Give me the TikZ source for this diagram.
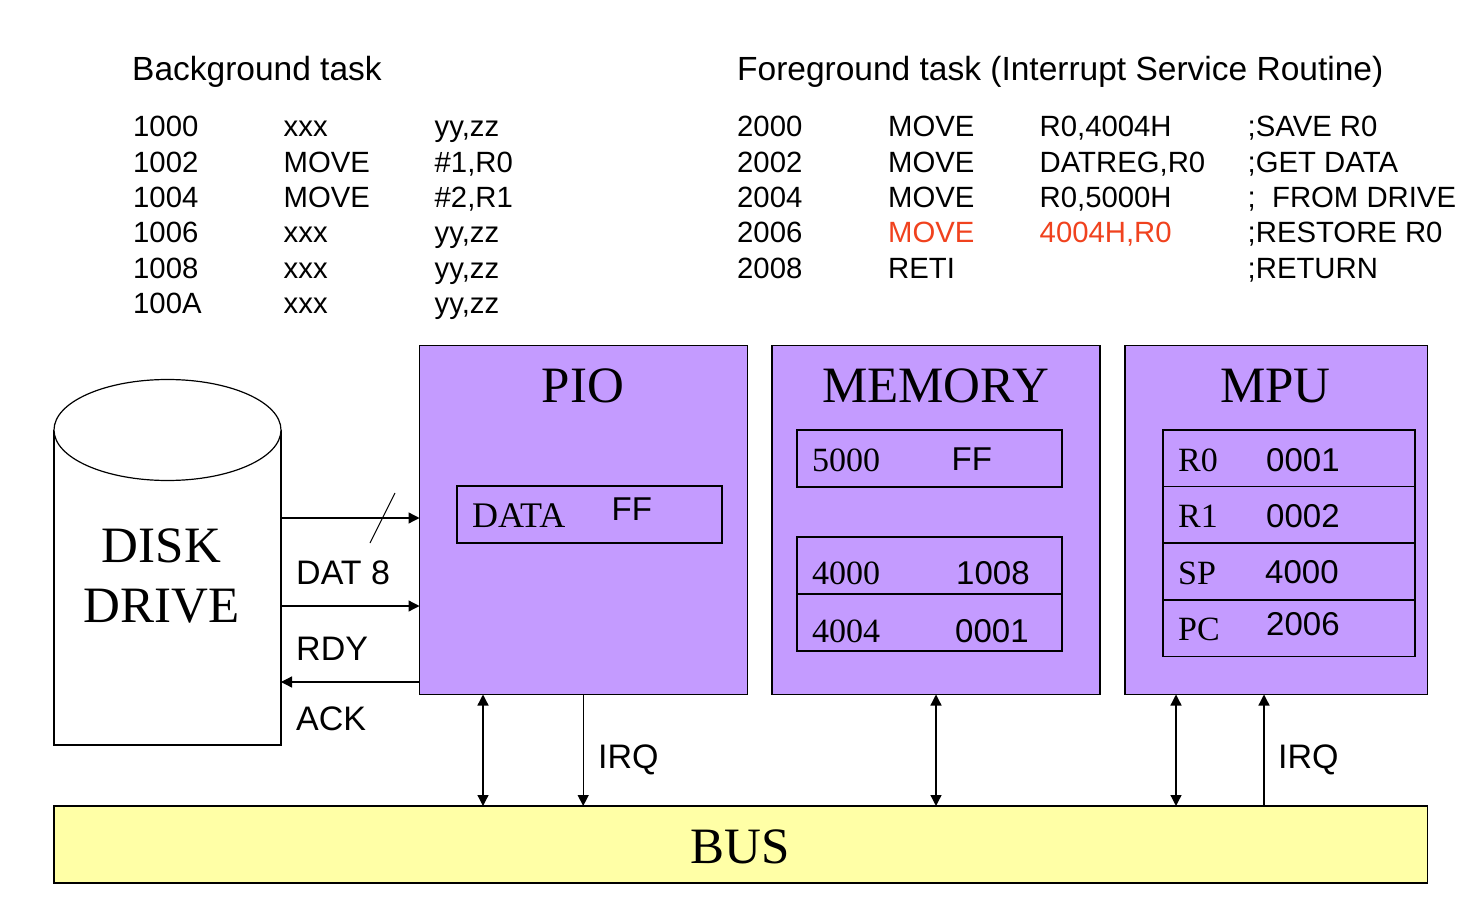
\documentclass[tikz,border=0pt]{standalone}
\usepackage{fontspec}
\setmainfont{Liberation Sans}
\newfontfamily\serifx{Liberation Serif}
\usetikzlibrary{arrows.meta}
\definecolor{purp}{HTML}{C49BFF}
\definecolor{yell}{HTML}{FFFFA6}
\definecolor{redt}{HTML}{F0421E}
\tikzset{
 x=1pt,y=-1pt,
 box/.style={draw=black,line width=1.2pt,fill=purp,anchor=north west,inner sep=0,outer sep=0},
 cell/.style={draw=black,line width=1.2pt,anchor=north west,inner sep=0,outer sep=0},
 heading/.style={anchor=base west,inner sep=0,font=\fontsize{33.5}{33.5}\selectfont},
 txt/.style={anchor=base west,inner sep=0,font=\fontsize{29.3}{29.3}\selectfont},
 lbl/.style={anchor=base west,inner sep=0,font=\fontsize{34}{34}\selectfont},
 val/.style={anchor=base west,inner sep=0,font=\fontsize{33}{33}\selectfont},
 ser/.style={anchor=base west,inner sep=0,font=\fontsize{34}{34}\serifx},
 ttl/.style={anchor=base,inner sep=0,font=\fontsize{51}{51}\serifx},
 conn/.style={draw=black,line width=1.3pt,-{Triangle[length=11pt,width=11pt]}},
 dconn/.style={draw=black,line width=1.3pt,{Triangle[length=11pt,width=11pt]}-{Triangle[length=11pt,width=11pt]}},
}
\begin{document}
\begin{tikzpicture}
\useasboundingbox (0,0) rectangle (1468,920);
% listings
\node[heading] (bgt) at (132,80.5) {Background task};
\node[heading] (fgt) at (737,80.5) {Foreground task (Interrupt Service Routine)};
\foreach \n/\y/\a/\b/\c in {a/136.5/1000/xxx/{yy,zz},b/172.5/1002/MOVE/{\#1,R0},c/207.5/1004/MOVE/{\#2,R1},d/242.5/1006/xxx/{yy,zz},e/278.5/1008/xxx/{yy,zz},f/313.5/100A/xxx/{yy,zz}}{
 \node[txt] (bg\n1) at (133,\y) {\a};
 \node[txt] (bg\n2) at (283.5,\y) {\b};
 \node[txt] (bg\n3) at (434.5,\y) {\c};
}
\foreach \n/\y/\a/\b/\c/\d in {a/136.5/2000/MOVE/{R0,4004H}/{;SAVE R0},b/172.5/2002/MOVE/{DATREG,R0}/{;GET DATA},c/207.5/2004/MOVE/{R0,5000H}/{;\ \ FROM DRIVE},e/278.5/2008/RETI/{}/{;RETURN}}{
 \node[txt] (fg\n1) at (737,\y) {\a};
 \node[txt] (fg\n2) at (888,\y) {\b};
 \node[txt] (fg\n3) at (1039.5,\y) {\c};
 \node[txt] (fg\n4) at (1247.5,\y) {\d};
}
\node[txt] (fgd1) at (737,242.5) {2006};
\node[txt,text=redt] (fgd2) at (888,242.5) {MOVE};
\node[txt,text=redt] (fgd3) at (1039.5,242.5) {4004H,R0};
\node[txt] (fgd4) at (1247.5,242.5) {;RESTORE R0};
% boxes
\node[box,minimum width=328pt,minimum height=349pt] (pio) at (419.5,345.5) {};
\node[box,minimum width=328pt,minimum height=349pt] (mem) at (772,345.5) {};
\node[box,minimum width=302.5pt,minimum height=349pt] (mpu) at (1125,345.5) {};
\node[draw=black,line width=1.2pt,fill=yell,anchor=north west,inner sep=0,outer sep=0,minimum width=1373.5pt,minimum height=77pt] (bus) at (54,806) {};
\node[ttl] (piot) at (583,402) {PIO};
\node[ttl] (memt) at (935.5,402) {MEMORY};
\node[ttl] (mput) at (1275.5,402) {MPU};
\node[ttl] (bust) at (740,863) {BUS};
% cells
\node[cell,minimum width=265pt,minimum height=57pt] (pd) at (457,486) {};
\node[ser,font=\fontsize{36}{36}\serifx] (pd1) at (472,527) {DATA};
\node[val] (pd2) at (611.5,520.5) {FF};
\node[cell,minimum width=265pt,minimum height=57pt] (m5) at (797,430) {};
\node[ser] (m51) at (812,471) {5000};
\node[val] (m52) at (951.5,470.5) {FF};
\node[cell,minimum width=265pt,minimum height=57pt] (m40) at (797,537) {};
\node[ser] (m401) at (812,584) {4000};
\node[val] (m402) at (956,584) {1008};
\node[cell,minimum width=265pt,minimum height=57pt] (m44) at (797,594) {};
\node[ser] (m441) at (812,642) {4004};
\node[val] (m442) at (955,642) {0001};
\foreach \n/\y/\a/\b/\bx/\ty/\by in {r0/430/R0/0001/1266/471/471,r1/486.5/R1/0002/1266/527.5/527.5,sp/543/SP/4000/1265/584/583.5,pc/600/PC/2006/1266/640/635}{
 \node[cell,minimum width=252pt,minimum height=56.5pt] (\n) at (1163,\y) {};
 \node[ser] (\n a) at (1178,\ty) {\a};
 \node[val] (\n b) at (\bx,\by) {\b};
}
% disk
\draw[line width=1.2pt,fill=white] (54,430) -- (54,745) -- (281,745) -- (281,430);
\draw[line width=1.2pt,fill=white] (167.5,430) ellipse [x radius=113.5,y radius=50.5];
\node[ttl] (d1) at (161.5,562.5) {DISK};
\node[ttl] (d2) at (161.5,622.5) {DRIVE};
\coordinate (dat) at (281,518); \coordinate (rdy) at (281,606); \coordinate (ack) at (281,682);
\draw[conn] (dat) -- (dat-|pio.west);
\draw[conn] (rdy) -- (rdy-|pio.west);
\draw[conn] (ack-|pio.west) -- (ack);
\coordinate (s1) at (370,543); \coordinate (s2) at (395,493);
\draw[line width=1.1pt] (s1) -- (s2);
\node[lbl] (l1) at (296,584) {DAT 8};
\node[lbl] (l2) at (296,660) {RDY};
\node[lbl] (l3) at (296,730) {ACK};
\node[lbl] (l4) at (598,768) {IRQ};
\node[lbl] (l5) at (1278,768) {IRQ};
% bus links
\coordinate (b1) at (483,806);\coordinate (b2) at (583.2,806);\coordinate (b3) at (936,806);\coordinate (b4) at (1176,806);\coordinate (b5) at (1264,806);
\draw[dconn] (b1|-pio.south) -- (b1);
\draw[conn] (b2|-pio.south) -- (b2);
\draw[dconn] (b3|-mem.south) -- (b3);
\draw[dconn] (b4|-mpu.south) -- (b4);
\draw[conn] (b5) -- (b5|-mpu.south);
\end{tikzpicture}
\end{document}
